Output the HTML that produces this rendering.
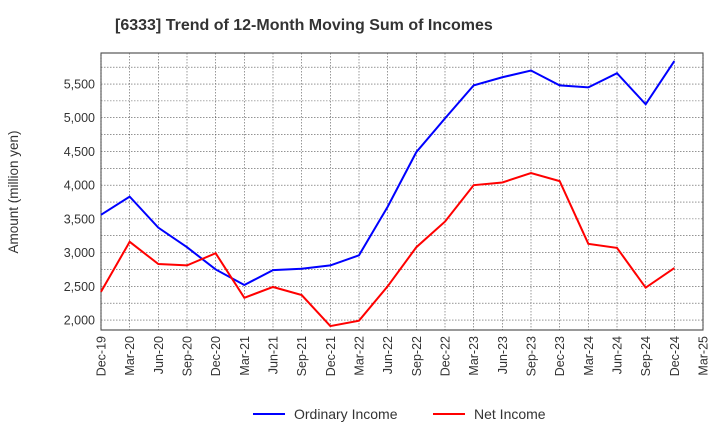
<!DOCTYPE html>
<html><head><meta charset="utf-8"><style>
body{margin:0;background:#fff;font-family:"Liberation Sans",sans-serif;}
</style></head><body>
<svg id="chart" width="720" height="440" xmlns="http://www.w3.org/2000/svg">
<text x="115" y="30" font-size="16" font-weight="bold" fill="#333">[6333]  Trend of 12-Month Moving Sum of Incomes</text>
<text transform="translate(18,192) rotate(-90)" text-anchor="middle" font-size="13.5" fill="#333">Amount (million yen)</text>
<g id="grid"></g><g id="axes"></g><g id="series"></g>
<g>
<line x1="253" y1="414" x2="285" y2="414" stroke="#0000ff" stroke-width="2"/>
<text x="294" y="419" font-size="14" fill="#333">Ordinary Income</text>
<line x1="433" y1="414" x2="465" y2="414" stroke="#ff0000" stroke-width="2"/>
<text x="474" y="419" font-size="14" fill="#333">Net Income</text>
</g>
</svg>
<script>
const categories=["Dec-19","Mar-20","Jun-20","Sep-20","Dec-20","Mar-21","Jun-21","Sep-21","Dec-21","Mar-22","Jun-22","Sep-22","Dec-22","Mar-23","Jun-23","Sep-23","Dec-23","Mar-24","Jun-24","Sep-24","Dec-24","Mar-25"];
const ordinaryIncome=[3560,3830,3370,3080,2750,2520,2740,2760,2810,2960,3680,4490,4990,5480,5600,5700,5480,5450,5660,5200,5840];
const netIncome=[2420,3160,2830,2810,2990,2330,2490,2370,1910,1990,2500,3080,3460,4000,4040,4180,4060,3130,3070,2480,2770];
const yTicks=[2000,2500,3000,3500,4000,4500,5000,5500];
const NS="http://www.w3.org/2000/svg";
const L=101,R=703,T=53,B=330,yMin=1852,yMax=5960;
const xs=i=>L+i*(R-L)/(categories.length-1);
const ys=v=>B-(v-yMin)/(yMax-yMin)*(B-T);
function mk(tag,attrs,parent){const e=document.createElementNS(NS,tag);for(const k in attrs)e.setAttribute(k,attrs[k]);document.getElementById(parent).appendChild(e);return e;}
const bg=mk("rect",{x:L,y:T,width:R-L,height:B-T,fill:"#fff",stroke:"#333","stroke-width":1},"grid");


for(let v=2000;v<=5750;v+=250){const g=mk("line",{x1:L,x2:R,y1:ys(v),y2:ys(v),stroke:"#555","stroke-width":0.6,"stroke-dasharray":"1.5,1.5"},"grid");

}
categories.forEach((c,i)=>{const x=xs(i);
const g=mk("line",{x1:x,x2:x,y1:T,y2:B,stroke:"#555","stroke-width":0.6,"stroke-dasharray":"1.5,1.5"},"grid");


const t=mk("text",{transform:`translate(${x+4.5},${B+6}) rotate(-90)`,"text-anchor":"end","font-size":12.5,fill:"#333"},"axes");
t.textContent=c;

});
yTicks.forEach(v=>{const t=mk("text",{x:L-6,y:ys(v)+4.5,"text-anchor":"end","font-size":12.5,fill:"#333"},"axes");
t.textContent=v.toLocaleString("en-US");

});
function line(data,color,name){const p=mk("polyline",{points:data.map((v,i)=>xs(i)+","+ys(v)).join(" "),fill:"none",stroke:color,"stroke-width":2},"series");

}
line(ordinaryIncome,"#0000ff","ordinary-income-line");
line(netIncome,"#ff0000","net-income-line");
</script>
</body></html>
